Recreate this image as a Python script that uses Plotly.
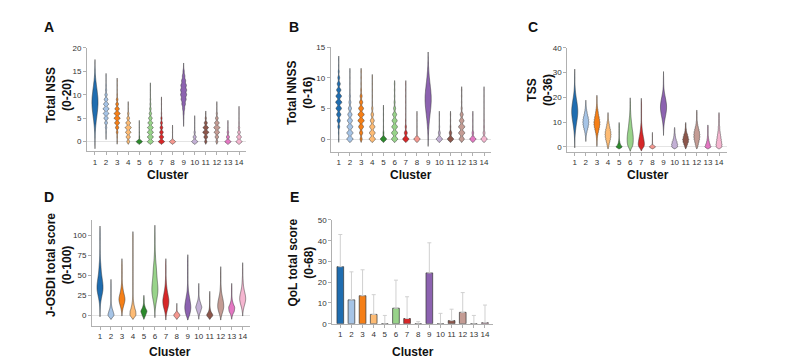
import numpy as np
import plotly.graph_objects as go

clusters = list(range(1, 15))
colors = ["#1f6db0", "#a6c4e6", "#f57f17", "#fdbb74", "#2c8a2c", "#98d38a", "#d62728",
          "#f4978f", "#8c62b0", "#c3b0d5", "#8c564b", "#c49c94", "#e377c2", "#f5b6d0"]

# ---- Panel A: Total NSS, counts per integer score starting at 0
nss_counts = [
    [1, 2, 4, 8, 14, 22, 30, 38, 42, 42, 36, 28, 20, 12, 6, 3, 1],
    [0, 1, 3, 6, 12, 18, 24, 26, 22, 16, 10, 5, 3, 1, 1],
    [1, 2, 6, 12, 18, 22, 22, 16, 10, 6, 2, 1, 1, 1],
    [8, 12, 16, 18, 14, 8, 4, 1, 1],
    [40, 4, 2, 1, 1],
    [20, 20, 20, 19, 16, 12, 8, 5, 3, 2, 1, 1, 1],
    [30, 22, 18, 14, 10, 6, 2, 1, 1, 1],
    [30, 1, 1, 1],
    [0, 0, 0, 0, 1, 2, 4, 8, 14, 20, 24, 24, 22, 16, 10, 5, 1],
    [20, 10, 4, 1, 1, 1],
    [6, 10, 16, 14, 8, 3, 1],
    [5, 9, 14, 16, 12, 7, 3, 1, 1],
    [20, 10, 5, 1, 1],
    [18, 14, 8, 4, 2, 1, 1, 1],
]
nss_bw = [0.75, 0.27, 0.27, 0.27, 0.27, 0.27, 0.27, 0.27, 0.38, 0.27, 0.27, 0.27, 0.27, 0.27]

# ---- Panel B: Total NNSS
nnss_counts = [
    [1, 2, 6, 10, 14, 18, 20, 18, 14, 10, 6, 3, 1, 1],
    [16, 16, 15, 13, 11, 8, 5, 3, 1, 1, 1, 1],
    [5, 8, 12, 15, 15, 12, 8, 5, 2, 1, 1, 1],
    [14, 13, 12, 9, 6, 3, 1, 1, 1, 1, 1],
    [30, 4, 1, 1, 1, 1],
    [12, 12, 11, 10, 8, 4, 2, 1, 1, 1],
    [25, 12, 5, 2, 1, 1, 1, 1, 1, 1],
    [30, 1, 1, 1, 1],
    [1, 2, 4, 7, 11, 15, 18, 18, 15, 11, 7, 4, 2, 1],
    [20, 6, 2, 1, 1],
    [20, 8, 2, 1, 1],
    [10, 12, 12, 9, 6, 2, 1, 1, 1],
    [20, 5, 1, 1, 1],
    [20, 6, 3, 2, 1, 1, 1, 1, 1],
]
nnss_bw = [0.27, 0.27, 0.27, 0.27, 0.27, 0.27, 0.27, 0.27, 0.6, 0.27, 0.27, 0.27, 0.27, 0.27]

# ---- Panel C: TSS
tss_counts = [
    [0, 0, 1, 1, 2, 3, 5, 7, 9, 12, 15, 18, 21, 23, 24, 24, 22, 20, 17, 14, 11, 8, 6, 4, 3, 2, 1, 1, 1, 1],
    [0, 0, 0, 1, 2, 4, 7, 11, 15, 18, 19, 18, 15, 11, 8, 5, 3, 2, 1],
    [0, 1, 1, 2, 3, 5, 8, 11, 14, 16, 16, 14, 12, 9, 7, 5, 3, 2, 1, 1, 1],
    [3, 5, 8, 11, 13, 14, 13, 11, 8, 6, 4, 2, 1, 1],
    [20, 8, 4, 2, 1, 1, 1, 1, 1, 1],
    [10, 11, 12, 12, 12, 11, 10, 8, 7, 6, 5, 4, 3, 2, 2, 1, 1, 1, 1],
    [14, 14, 13, 11, 9, 7, 5, 4, 3, 2, 1, 1, 1, 1, 1, 1, 1, 1, 1],
    [30, 2, 1, 1, 1, 1],
    [0, 0, 0, 0, 0, 0, 0, 1, 2, 3, 5, 8, 11, 14, 17, 19, 20, 19, 17, 14, 11, 8, 5, 3, 2, 1, 1, 1, 1],
    [10, 10, 8, 5, 3, 2, 1, 1],
    [3, 6, 9, 10, 8, 6, 3, 2, 1, 1],
    [3, 5, 7, 9, 10, 10, 9, 7, 5, 3, 2, 1, 1, 1, 1],
    [12, 8, 5, 3, 2, 1, 1, 1, 1],
    [8, 8, 7, 6, 5, 4, 3, 2, 2, 1, 1, 1, 1, 1],
]
tss_bw = [1.2, 0.42, 0.42, 0.42, 0.42, 0.9, 0.8, 0.42, 1.2, 0.42, 0.42, 0.42, 0.42, 0.42]

# ---- Panel D: J-OSDI, counts per 5-point score bin starting at 0
josdi_counts = [
    [0, 1, 2, 4, 8, 14, 20, 22, 20, 16, 12, 9, 7, 5, 3, 2, 1, 1, 1, 1, 1, 1],
    [20, 12, 5, 2, 1, 1, 1, 1, 1],
    [0, 2, 6, 12, 16, 12, 7, 4, 2, 1, 1, 1, 1, 1],
    [16, 14, 8, 4, 2, 1, 1, 1, 1, 1, 1, 1, 1, 1, 1, 1, 1, 1, 1, 1, 1],
    [6, 12, 4, 1, 1],
    [0, 1, 3, 6, 10, 14, 16, 16, 14, 12, 10, 9, 8, 6, 4, 3, 2, 2, 1, 1, 1, 1],
    [2, 6, 12, 16, 16, 12, 8, 5, 3, 2, 1, 1, 1, 1],
    [30, 1, 1],
    [8, 12, 14, 12, 9, 6, 3, 2, 1, 1, 1, 1, 1, 1, 1],
    [2, 8, 14, 8, 3, 1, 1, 1],
    [25, 6, 2, 1, 1, 1],
    [4, 10, 14, 13, 10, 6, 3, 2, 1, 1, 1, 1],
    [3, 12, 14, 6, 2, 1, 1, 1],
    [0, 2, 6, 12, 16, 14, 9, 5, 3, 2, 1, 1, 1],
]
josdi_step = 5
josdi_bw = [3.5, 2.5, 3, 2.5, 2.5, 4, 3, 2.5, 3, 2.5, 2.5, 3, 2.5, 3]

# ---- Panel E: QoL total score (mean and upper error)
qol_mean = [27.5, 11.5, 13.5, 4.5, 0, 7.5, 2.5, 0, 24.5, 0, 1.5, 5.5, 0, 0.5]
qol_upper = [43, 25, 26, 14, 4, 21, 13, 1, 39, 5, 7, 15, 4, 9]

FONT = "Liberation Sans, Arial, sans-serif"

fig = go.Figure()


def add_violins(counts, step, bws, xa, ya):
    for i, c in enumerate(counts):
        vals = np.arange(len(c)) * step
        samples = np.repeat(vals, c).astype(float)
        fig.add_trace(go.Violin(
            x=[clusters[i]] * len(samples), y=samples,
            xaxis=xa, yaxis=ya,
            fillcolor=colors[i], line=dict(color="#333", width=0.5),
            opacity=1, points=False, width=0.55, scalemode="width",
            bandwidth=bws[i], spanmode="soft", showlegend=False,
            hoverinfo="skip", box_visible=False, meanline_visible=False,
        ))


add_violins(nss_counts, 1, nss_bw, "x", "y")
add_violins(nnss_counts, 1, nnss_bw, "x2", "y2")
add_violins(tss_counts, 1, tss_bw, "x3", "y3")
add_violins(josdi_counts, josdi_step, josdi_bw, "x4", "y4")

fig.add_trace(go.Bar(
    x=clusters, y=qol_mean, xaxis="x5", yaxis="y5", width=0.6,
    marker=dict(color=colors, line=dict(color="#333", width=0.7)),
    error_y=dict(type="data", symmetric=False,
                 array=[u - m for u, m in zip(qol_upper, qol_mean)],
                 arrayminus=[0] * 14, color="#d0d0d0", thickness=1, width=2),
    showlegend=False, hoverinfo="skip",
))


def px2x(p):
    return p / 800.0


def px2y(p):
    return 1 - p / 361.0


axis_common = dict(showline=True, linecolor="#b0b0b0", linewidth=1, ticks="outside",
                   ticklen=3, tickcolor="#b0b0b0", showgrid=False,
                   tickfont=dict(family=FONT, size=8, color="#333"))

panels = [
    ("", (79, 238), (36.7, 143), (-2.08, 20), [0, 5, 10, 15, 20], (0.28, 14.63)),
    ("2", (322.7, 483.3), (36, 143.3), (-2.07, 15), [0, 5, 10, 15], (0.28, 14.65)),
    ("3", (559.3, 719), (36.7, 143.3), (-1.97, 40), [0, 10, 20, 30, 40], (0.33, 14.72)),
    ("4", (84, 241.7), (213.3, 321.7), (-13.1, 119.6), [0, 25, 50, 75, 100], (0.27, 14.64)),
    ("5", (324.3, 485), (213.3, 319.7), (0, 50), [0, 10, 20, 30, 40, 50], (0.28, 14.72)),
]
for name, xp, yp, yr, yt, xr in panels:
    fig.layout["xaxis" + name] = dict(
        axis_common, domain=[px2x(xp[0]), px2x(xp[1])], range=list(xr),
        anchor="y" + name, tickvals=clusters, ticktext=[str(c) for c in clusters],
        tickangle=0, zeroline=False)
    fig.layout["yaxis" + name] = dict(
        axis_common, domain=[px2y(yp[1]), px2y(yp[0])], range=list(yr),
        anchor="x" + name, tickvals=yt, zeroline=(name != "5"),
        zerolinecolor="#e4e4e4", zerolinewidth=1)

annotations = []
for txt, x, y in [("A", 41, 15), ("B", 286, 15), ("C", 525, 15), ("D", 41, 190), ("E", 286, 190)]:
    annotations.append(dict(text="<b>" + txt + "</b>", x=px2x(x), y=px2y(y), xref="paper", yref="paper",
                            showarrow=False, font=dict(family=FONT, size=14, color="#111"),
                            xanchor="center", yanchor="middle"))
for txt, x, y in [("<b>Total NSS<br>(0-20)</b>", 51, 85), ("<b>Total NNSS<br>(0-16)</b>", 292, 83),
                  ("<b>TSS<br>(0-36)</b>", 532, 80), ("<b>J-OSDI total score<br>(0-100)</b>", 50.5, 260),
                  ("<b>QoL total score<br>(0-68)</b>", 293, 257)]:
    annotations.append(dict(text=txt, x=px2x(x), y=px2y(y), xref="paper", yref="paper",
                            showarrow=False, textangle=-90,
                            font=dict(family=FONT, size=12, color="#111"),
                            xanchor="center", yanchor="middle"))
for x, y in [(160, 167), (403, 167), (640, 167), (162, 349), (405, 349)]:
    annotations.append(dict(text="<b>Cluster</b>", x=px2x(x), y=px2y(y), xref="paper", yref="paper",
                            showarrow=False, font=dict(family=FONT, size=12, color="#111"),
                            xanchor="center", yanchor="middle"))

fig.update_layout(
    width=800, height=361, margin=dict(l=0, r=0, t=0, b=0),
    paper_bgcolor="white", plot_bgcolor="white",
    annotations=annotations, font=dict(family=FONT),
    violingap=0, violinmode="overlay", bargap=0.4,
)

fig.write_html("out.html")
